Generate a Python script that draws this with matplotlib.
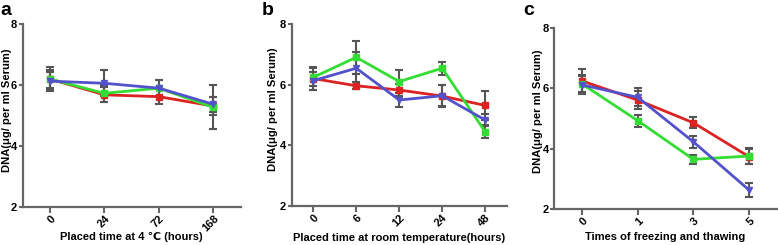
import numpy as np
import matplotlib.pyplot as plt

plt.rcParams['font.family'] = ['Liberation Sans', 'DejaVu Sans']
plt.rcParams['font.weight'] = 'bold'

# panel a: 4 C storage
a_cats = ['0', '24', '72', '168']
a_red = [6.20, 5.68, 5.62, 5.31]
a_red_err = [0.38, 0.25, 0.25, 0.30]
a_green = [6.20, 5.73, 5.90, 5.27]
a_green_err = [0.30, 0.28, 0.27, 0.73]
a_blue = [6.13, 6.06, 5.90, 5.37]
a_blue_err = [0.30, 0.43, 0.27, 0.25]

# panel b: room temperature
b_cats = ['0', '6', '12', '24', '48']
b_red = [6.20, 5.96, 5.82, 5.62, 5.31]
b_red_err = [0.38, 0.12, 0.20, 0.37, 0.48]
b_green = [6.24, 6.90, 6.10, 6.54, 4.44]
b_green_err = [0.30, 0.54, 0.38, 0.22, 0.22]
b_blue = [6.13, 6.54, 5.49, 5.63, 4.83]
b_blue_err = [0.30, 0.55, 0.24, 0.35, 0.20]

# panel c: freeze / thaw
c_cats = ['0', '1', '3', '5']
c_red = [6.24, 5.61, 4.86, 3.74]
c_red_err = [0.38, 0.30, 0.18, 0.25]
c_green = [6.14, 4.93, 3.65, 3.76]
c_green_err = [0.30, 0.20, 0.15, 0.25]
c_blue = [6.11, 5.70, 4.23, 2.64]
c_blue_err = [0.30, 0.30, 0.20, 0.22]

RED = '#dd2222'
GREEN = '#33dd33'
BLUE = '#5252cc'
GRAY = '#555555'


def panel(ax, cats, series, xlabel, letter, ylx, yly, xly, lx, ly):
	x = np.arange(len(cats))
	for vals, errs, col, mk in series:
		ax.errorbar(x, vals, yerr=errs, color=col, ecolor=GRAY, elinewidth=1.5,
			capsize=3, capthick=1.5, lw=2, marker=mk, ms=4, mec=col, zorder=3)
	ax.set_xlim(-0.5, len(cats) - 0.5)
	ax.set_ylim(2, 8)
	ax.set_yticks([2, 4, 6, 8])
	ax.set_xticks(x)
	ax.set_xticklabels(cats, rotation=45, ha='right', va='top', rotation_mode='anchor')
	for s in ['top', 'right']:
		ax.spines[s].set_visible(False)
	for s in ['left', 'bottom']:
		ax.spines[s].set_color('#666666')
		ax.spines[s].set_linewidth(1.6)
	ax.tick_params(colors='#666666', width=1.5, length=4, labelsize=8, labelcolor='black')
	ax.tick_params(axis='y', length=3, pad=1)
	ax.tick_params(axis='x', pad=1)
	ax.set_xlabel(xlabel, fontsize=8, fontweight='bold', va='center')
	ax.xaxis.set_label_coords(0.5, xly)
	ax.set_ylabel('DNA(μg/ per ml Serum)', fontsize=8.1, fontweight='bold', va='center')
	ax.yaxis.set_label_coords(ylx, yly)
	ax.text(lx, ly, letter, transform=ax.transAxes, fontsize=14, fontweight='bold', va='baseline', ha='left')


fig = plt.figure(figsize=(7.78, 2.45), dpi=100)
ax1 = fig.add_axes([0.0292, 0.1563, 0.280, 0.7445])
ax2 = fig.add_axes([0.375, 0.1604, 0.2763, 0.7416])
ax3 = fig.add_axes([0.7125, 0.1457, 0.2859, 0.7412])

panel(ax1, a_cats, [(a_red, a_red_err, RED, 's'), (a_green, a_green_err, GREEN, 's'),
	(a_blue, a_blue_err, BLUE, 'v')], 'Placed time at 4 ℃ (hours)', 'a',
	-0.072, 0.53, -0.166, -0.104, 1.051)
panel(ax2, b_cats, [(b_red, b_red_err, RED, 's'), (b_green, b_green_err, GREEN, 's'),
	(b_blue, b_blue_err, BLUE, 'v')], 'Placed time at room temperature(hours)', 'b',
	-0.087, 0.53, -0.178, -0.138, 1.05)
panel(ax3, c_cats, [(c_red, c_red_err, RED, 's'), (c_green, c_green_err, GREEN, 's'),
	(c_blue, c_blue_err, BLUE, 'v')], 'Times of freezing and thawing', 'c',
	-0.073, 0.54, -0.155, -0.141, 1.07)

fig.savefig('out.png', dpi=100)
